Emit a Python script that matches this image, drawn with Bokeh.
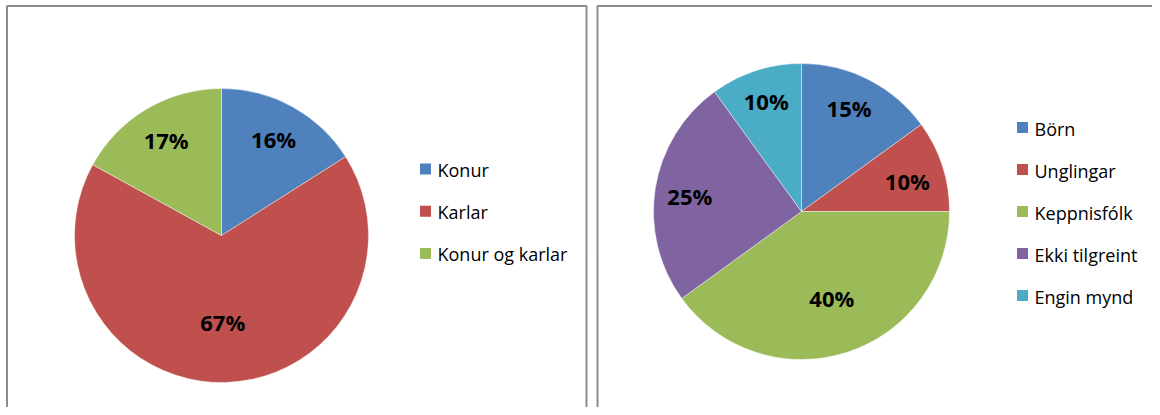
import numpy as np
from bokeh.plotting import figure
from bokeh.models import Range1d, ColumnDataSource
from bokeh.core.properties import value
from bokeh.embed import file_html
from bokeh.resources import INLINE

# ---- data ----
left_labels = ["Konur", "Karlar", "Konur og karlar"]
left_values = [16, 67, 17]
left_colors = ["#4F81BD", "#C0504D", "#9BBB59"]

right_labels = ["Börn", "Unglingar", "Keppnisfólk", "Ekki tilgreint", "Engin mynd"]
right_values = [15, 10, 40, 25, 10]
right_colors = ["#4F81BD", "#C0504D", "#9BBB59", "#8064A2", "#4BACC6"]

# ---- layout / style ----
W, H = 1152, 407
FONT = "Open Sans"
BORDER = "#8c8c8c"

p = figure(width=W, height=H, x_range=Range1d(0, W), y_range=Range1d(-H, 0),
           output_backend="svg", toolbar_location=None, min_border=0,
           x_axis_type=None, y_axis_type=None)
p.grid.visible = False
p.outline_line_color = None
p.background_fill_color = "white"
p.border_fill_color = "white"

# panel borders
p.quad(left=[6.5, 597], right=[586, 1200], top=[-5.5, -5.5], bottom=[-440, -440],
       fill_color=None, line_color=BORDER, line_width=2)


def draw_pie(cx, cy, r, values, colors, label_r, label_da):
    fr = np.array(values, dtype=float) / sum(values)
    cum = np.concatenate([[0.0], np.cumsum(fr)])
    start = np.pi / 2 - 2 * np.pi * cum[1:]
    end = np.pi / 2 - 2 * np.pi * cum[:-1]
    src = ColumnDataSource(dict(start=start, end=end, color=colors))
    p.wedge(x=cx, y=-cy, radius=r, start_angle="start", end_angle="end",
            direction="anticlock", fill_color="color", line_color="white",
            line_width=0.6, line_alpha=0.7, source=src)
    mid = np.radians((cum[:-1] + cum[1:]) / 2 * 360 + np.array(label_da))
    lr = r * np.array(label_r)
    lx = cx + lr * np.sin(mid)
    ly = -cy + lr * np.cos(mid) + 2
    p.text(x=lx, y=ly, text=[f"{v}%" for v in values],
           text_font=value(FONT), text_font_style="bold", text_font_size="22px",
           text_align="center", text_baseline="middle", text_color="black")


def draw_legend(x0, y0, dy, labels, colors):
    ys = [-(y0 + i * dy) for i in range(len(labels))]
    p.rect(x=[x0] * len(labels), y=ys, width=11, height=11, fill_color=colors,
           line_color=None)
    p.text(x=[x0 + 12] * len(labels), y=[y - 1 for y in ys], text=labels,
           text_font=value(FONT), text_font_size="18px", text_align="left",
           text_baseline="middle", text_color="black")


draw_pie(221, 235, 147, left_values, left_colors,
         [0.735, 0.60, 0.74], [0, 1, 0])
draw_legend(425, 168.5, 42.2, left_labels, left_colors)

draw_pie(801, 211, 148, right_values, right_colors,
         [0.76, 0.74, 0.63, 0.76, 0.77], [-2, 3, -1, -2, 0])
draw_legend(1022, 127, 42, right_labels, right_colors)

open("out.html", "w").write(file_html(p, INLINE))
